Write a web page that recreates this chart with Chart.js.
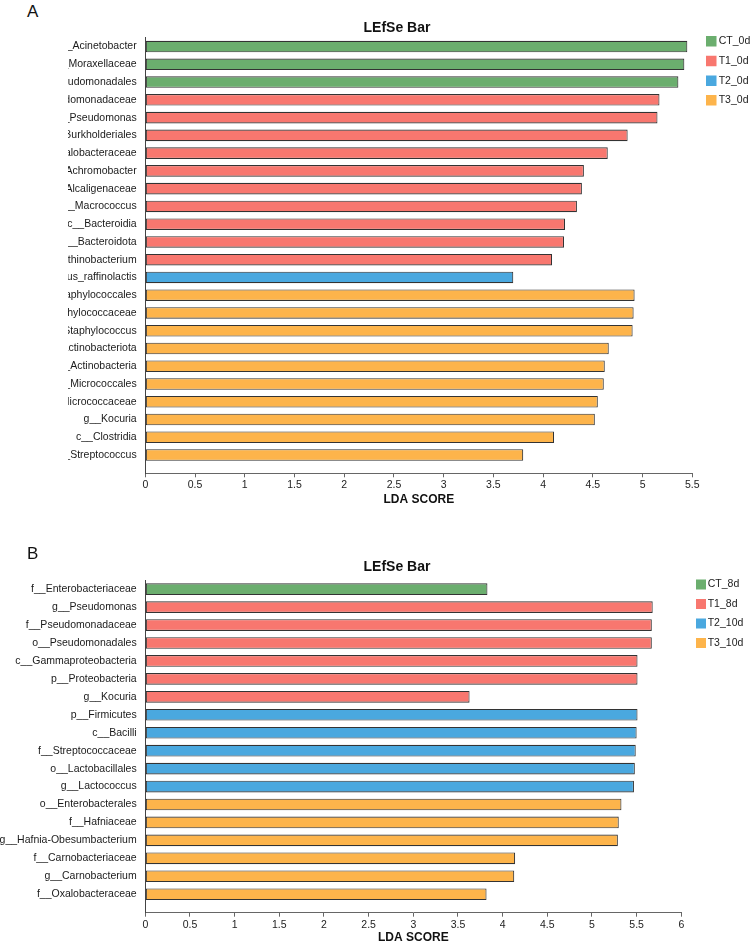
<!DOCTYPE html>
<html><head><meta charset="utf-8">
<script src="https://cdn.jsdelivr.net/npm/chart.js@4.4.1/dist/chart.umd.min.js"></script>
<style>
html,body{margin:0;padding:0;background:#fff;width:750px;height:945px;overflow:hidden;font-family:'Liberation Sans',Arial,sans-serif;position:relative;}
.panel-letter{position:absolute;left:27px;font-size:17px;line-height:17px;color:#111;}
#clipA{position:absolute;left:68px;top:0;width:682px;height:515px;overflow:hidden;}
#chartA{position:absolute;left:-68px;top:0;}
#clipB{position:absolute;left:0;top:515px;width:750px;height:430px;overflow:hidden;}
#chartB{position:absolute;left:0;top:0;}
</style></head><body>
<div id="clipA"><canvas id="chartA" width="794" height="515"></canvas></div>
<div id="clipB"><canvas id="chartB" width="794" height="430"></canvas></div>
<div class="panel-letter" style="top:3px">A</div>
<div class="panel-letter" style="top:545px">B</div>
<script>
const FONT = "'Liberation Sans', Arial, sans-serif";
const groupColors = ['#6BAE6E', '#F8776F', '#4AA8DF', '#FDB44B'];

// ---- Panel A ----
const labelsA = ['g__Acinetobacter','f__Moraxellaceae','o__Pseudomonadales','f__Pseudomonadaceae','g__Pseudomonas',
  'o__Burkholderiales','f__Oxalobacteraceae','g__Achromobacter','f__Alcaligenaceae','g__Macrococcus',
  'c__Bacteroidia','p__Bacteroidota','g__Janthinobacterium','s__Lactococcus_raffinolactis','o__Staphylococcales',
  'f__Staphylococcaceae','g__Staphylococcus','p__Actinobacteriota','c__Actinobacteria','o__Micrococcales',
  'f__Micrococcaceae','g__Kocuria','c__Clostridia','g__Streptococcus'];
const scoresA = [5.45, 5.42, 5.36, 5.17, 5.15, 4.85, 4.65, 4.41, 4.39, 4.34, 4.22, 4.21, 4.09, 3.70,
  4.92, 4.91, 4.90, 4.66, 4.62, 4.61, 4.55, 4.52, 4.11, 3.80];
const groupsA = [0,0,0,1,1,1,1,1,1,1,1,1,1,2,3,3,3,3,3,3,3,3,3,3];
const groupNamesA = ['CT_0d','T1_0d','T2_0d','T3_0d'];
const xTicksA = [0,0.5,1,1.5,2,2.5,3,3.5,4,4.5,5,5.5];

// ---- Panel B ----
const labelsB = ['f__Enterobacteriaceae','g__Pseudomonas','f__Pseudomonadaceae','o__Pseudomonadales',
  'c__Gammaproteobacteria','p__Proteobacteria','g__Kocuria','p__Firmicutes','c__Bacilli','f__Streptococcaceae',
  'o__Lactobacillales','g__Lactococcus','o__Enterobacterales','f__Hafniaceae','g__Hafnia-Obesumbacterium',
  'f__Carnobacteriaceae','g__Carnobacterium','f__Oxalobacteraceae'];
const scoresB = [3.83, 5.68, 5.67, 5.67, 5.51, 5.51, 3.63, 5.51, 5.50, 5.49, 5.48, 5.47, 5.33, 5.30, 5.29, 4.14, 4.13, 3.82];
const groupsB = [0,1,1,1,1,1,1,2,2,2,2,2,3,3,3,3,3,3];
const groupNamesB = ['CT_8d','T1_8d','T2_10d','T3_10d'];
const xTicksB = [0,0.5,1,1.5,2,2.5,3,3.5,4,4.5,5,5.5,6];

function makeDatasets(scores, groups, names) {
  return names.map((name, g) => ({
    label: name,
    data: scores.map((s, i) => ({x: s, y: i})).filter(p => groups[p.y] === g),
    backgroundColor: groupColors[g],
    borderColor: '#333333',
    borderWidth: 1.1,
    borderSkipped: false,
    grouped: false,
    barPercentage: 0.65,
    categoryPercentage: 1
  }));
}

function makeOptions(cfg) {
  return {
    indexAxis: 'y',
    responsive: false,
    animation: false,
    events: [],
    layout: {padding: 0},
    scales: {
      x: {
        type: 'linear', position: 'bottom', min: 0, max: cfg.xMax, offset: false, bounds: 'data',
        afterBuildTicks: s => { s.ticks = cfg.xTicks.map(v => ({value: v})); },
        afterFit: s => { s.height = cfg.xAxisHeight; },
        ticks: {callback: v => String(v), font: {family: FONT, size: 10.5}, color: '#222', padding: 2, maxRotation: 0, autoSkip: false},
        grid: {display: true, drawOnChartArea: false, drawTicks: true, tickLength: 4, color: '#666', offset: false},
        border: {display: true, color: '#666', width: 1},
        title: {display: true, text: 'LDA SCORE', font: {family: FONT, size: 12, weight: 'bold'}, color: '#111',
          padding: {top: 0, bottom: cfg.xTitlePadBottom}}
      },
      y: {
        type: 'linear', position: 'left', reverse: true, min: -0.5, max: cfg.yMax, offset: false, bounds: 'data',
        afterBuildTicks: s => { s.ticks = cfg.labels.map((l, i) => ({value: i})); },
        afterFit: s => { s.width = 145.3; },
        ticks: {callback: v => cfg.labels[v], font: {family: FONT, size: 10.5}, color: '#1a1a1a', padding: 8.6, autoSkip: false},
        grid: {display: false, drawTicks: false, offset: false},
        border: {display: true, color: '#444', width: 1}
      },
      yR: {
        type: 'linear', axis: 'y', position: 'right', display: true,
        afterFit: s => { s.width = cfg.gapRight; },
        ticks: {display: false}, grid: {display: false, drawTicks: false}, border: {display: false}
      },
      yR2: {
        type: 'linear', axis: 'y', position: 'right', display: true, weight: 2000,
        afterFit: s => { s.width = 44; },
        ticks: {display: false}, grid: {display: false, drawTicks: false}, border: {display: false}
      }
    },
    plugins: {
      title: {display: true, text: 'LEfSe Bar', font: {family: FONT, size: 14, weight: 'bold'}, color: '#111',
        padding: {top: cfg.titlePadTop, bottom: cfg.titlePadBottom}},
      legend: {
        display: true, position: 'right', align: 'start', maxWidth: cfg.legendWidth,
        title: {display: true, text: '', font: {size: 10}, padding: {top: cfg.legendTitlePad, bottom: 0}},
        labels: {
          font: {family: FONT, size: 10.5}, color: '#222', boxWidth: cfg.lbw, boxHeight: cfg.lbw, padding: cfg.legendPad,
          generateLabels: chart => chart.data.datasets.map((ds, i) => ({
            text: ds.label, fillStyle: ds.backgroundColor, strokeStyle: ds.backgroundColor,
            lineWidth: cfg.llw, hidden: false, datasetIndex: i, fontColor: '#222'
          }))
        }
      },
      tooltip: {enabled: false}
    }
  };
}

new Chart(document.getElementById('chartA'), {
  type: 'bar',
  data: {datasets: makeDatasets(scoresA, groupsA, groupNamesA)},
  options: makeOptions({labels: labelsA, xMax: 5.5, xTicks: xTicksA, xAxisHeight: 41.7, xTitlePadBottom: 8.3,
    yMax: 24.03, gapRight: 7.55, titlePadTop: 19.4, titlePadBottom: 1.5, legendWidth: 50.15,
    legendTitlePad: 14.8, legendPad: 9.2, lbw: 4.4, llw: 6.1})
});

new Chart(document.getElementById('chartB'), {
  type: 'bar',
  data: {datasets: makeDatasets(scoresB, groupsB, groupNamesB)},
  options: makeOptions({labels: labelsB, xMax: 6, xTicks: xTicksB, xAxisHeight: 32.3, xTitlePadBottom: 0.5,
    yMax: 18.03, gapRight: 9.3, titlePadTop: 43.6, titlePadBottom: 4.8, legendWidth: 59.4,
    legendTitlePad: 43.35, legendPad: 8.95, lbw: 2.9, llw: 7.1})
});
</script>
</body></html>
